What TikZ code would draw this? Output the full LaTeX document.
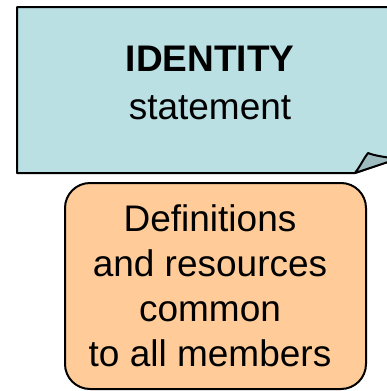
\documentclass[tikz,border=0pt]{standalone}
\usepackage{fontspec}
\setmainfont{Liberation Sans}
\definecolor{notecyan}{RGB}{186,224,228}
\definecolor{notefold}{RGB}{158,188,192}
\definecolor{boxpeach}{RGB}{255,204,153}

\begin{document}
\begin{tikzpicture}[x=1pt,y=-1pt,
    outline/.style={draw=black,line width=2pt,line join=round},
    bigtext/.style={align=center,inner sep=0pt,anchor=base}]
    \useasboundingbox (0,0) rectangle (387,391);
    \begin{scope}
        \clip (0,0) rectangle (387,391);
        % note with the curled corner
        \draw[outline,fill=notecyan] (17,7) -- (402,7) -- (402,157) -- (355,173) -- (17,173) -- cycle;
        \draw[outline,fill=notefold] (355,173) .. controls (361,165) and (364,158) .. (368,153)
            .. controls (375,156) and (386,157) .. (397,159) -- cycle;
        % box underneath
        \draw[outline,fill=boxpeach,rounded corners=25pt] (65,183) rectangle (366,389);
    \end{scope}
    \node[bigtext,font=\fontsize{37}{48}\selectfont] (identity) at (210,119) {\textbf{IDENTITY}\\statement};
    \node[bigtext,font=\fontsize{37}{45}\selectfont] (common) at (210,366.5) {Definitions\\and resources\\common\\to all members};
\end{tikzpicture}
\end{document}
